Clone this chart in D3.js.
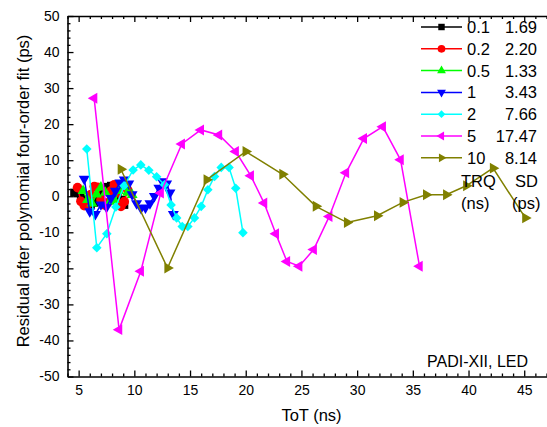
<!DOCTYPE html>
<html>
<head>
<meta charset="utf-8">
<script src="https://cdn.jsdelivr.net/npm/d3@7"></script>
<style>
  body { margin: 0; background: #fff; }
  text { font-family: Arial, "Liberation Sans", sans-serif; }
</style>
</head>
<body>
<div id="chart"></div>
<script>
// series data (x = ToT in ns, y = residual in ps)
var trq0_1_x = [4.6, 4.9, 5.2, 5.5, 5.8, 6.1, 6.4, 6.7, 7.0, 7.3, 7.6, 7.9, 8.2, 8.5, 8.8, 9.1];
var trq0_1_y = [1.0, 0.8, 0.2, -0.8, -1.8, -2.3, -1.8, -0.6, 0.6, 1.8, 2.6, 2.9, 2.3, 0.8, -1.0, -2.4];

var trq0_2_x = [4.9, 5.2, 5.5, 5.8, 6.1, 6.4, 6.7, 7.0, 7.3, 7.6, 7.9, 8.2, 8.5, 8.8, 9.1, 9.4];
var trq0_2_y = [2.4, -1.4, -2.6, -2.2, 0.5, 2.7, 2.5, -1.0, -2.4, -1.8, 1.5, 3.2, 1.0, -2.8, -1.5, 1.8];

var trq0_5_x = [5.4, 5.8, 6.2, 6.6, 7.0, 7.4, 7.8, 8.2, 8.6, 9.0, 9.4, 9.8];
var trq0_5_y = [1.5, -1.0, -2.0, 0.5, 2.5, 1.0, -1.5, -1.0, 1.5, 2.8, 1.0, 0.4];

var trq1_x = [5.5, 6.0, 6.5, 7.0, 7.5, 7.9, 8.3, 8.7, 9.1, 9.5, 9.8, 10.2, 10.6, 11.0, 11.4, 11.8, 12.2, 12.5, 12.9, 13.2, 13.5];
var trq1_y = [4.8, -4.2, -5.0, -2.3, -3.0, -0.5, 1.5, 3.8, 4.6, 3.5, 0.5, -2.0, -3.3, -3.2, -2.0, 0.0, 2.3, 4.1, 3.5, 1.0, -5.0];

var trq2_x = [5.73, 6.63, 7.53, 8.34, 9.08, 9.89, 10.58, 11.3, 12.0, 12.7, 13.3, 13.8, 14.3, 14.8, 15.4, 16.0, 16.6, 17.2, 17.8, 18.5, 19.1, 19.75];
var trq2_y = [13.1, -14.3, -10.4, -3.0, 2.9, 7.3, 8.7, 7.2, 5.4, 3.2, -2.4, -6.0, -8.4, -8.4, -6.0, -2.8, 1.8, 5.5, 8.0, 8.0, 2.2, -10.1];

var trq5_x = [6.39, 8.63, 10.58, 12.37, 14.26, 15.97, 17.6, 19.1, 20.45, 21.65, 22.7, 23.7, 24.8, 26.1, 27.5, 29.0, 30.6, 32.3, 33.9, 35.6];
var trq5_y = [27.2, -37.0, -20.8, 0.9, 14.5, 18.4, 17.0, 12.4, 5.7, -1.9, -10.4, -18.1, -19.4, -14.8, -5.6, 6.5, 16.0, 19.3, 10.1, -19.4];

var trq10_x = [8.79, 12.98, 16.5, 20.0, 23.3, 26.3, 29.1, 31.8, 34.1, 36.2, 38.0, 39.8, 42.2, 45.1];
var trq10_y = [7.5, -19.9, 4.6, 12.4, 6.1, -2.8, -7.3, -5.4, -1.7, 0.4, 0.4, 2.9, 7.8, -6.0];

// legend labels
var trq_labels = ['0.1', '0.2', '0.5', '1', '2', '5', '10'];
var sd_labels = ['1.69', '2.20', '1.33', '3.43', '7.66', '17.47', '8.14'];

// tick values
var x_ticks = [5, 10, 15, 20, 25, 30, 35, 40, 45];
var y_ticks = [-50, -40, -30, -20, -10, 0, 10, 20, 30, 40, 50];

var series_x = [trq0_1_x, trq0_2_x, trq0_5_x, trq1_x, trq2_x, trq5_x, trq10_x];
var series_y = [trq0_1_y, trq0_2_y, trq0_5_y, trq1_y, trq2_y, trq5_y, trq10_y];
var colors = ['#000000', '#ff0000', '#00ff00', '#0000ff', '#00ffff', '#ff00ff', '#808000'];
var shapes = ['square', 'circle', 'up', 'down', 'diamond', 'left', 'right'];

// dimensions
var width = 547, height = 427;
var plot = {left: 67.5, right: 546.5, top: 16, bottom: 376.5};

var font_size_tick = 14;
var font_size_label = 16.5;
var font_size_legend = 16.5;

var svg = d3.select('#chart')
    .append('svg')
        .attr('width', width)
        .attr('height', height);

var x = d3.scaleLinear().domain([4, 47]).range([plot.left, plot.right]);
var y = d3.scaleLinear().domain([-50, 50]).range([plot.bottom, plot.top]);

// marker path for a given shape
function marker(shape, scale) {
    var s = scale || 1;
    if (shape === 'square') return d3.symbol(d3.symbolSquare, 64 * s)();
    if (shape === 'circle') return d3.symbol(d3.symbolCircle, 72 * s)();
    if (shape === 'diamond') return d3.symbol(d3.symbolSquare, 46 * s)();
    return d3.symbol(d3.symbolTriangle, 52 * s)();
}
function rotation(shape) {
    if (shape === 'diamond') return 45;
    if (shape === 'down') return 180;
    if (shape === 'left') return -90;
    if (shape === 'right') return 90;
    return 0;
}

// minor ticks
var x_minor = d3.range(4, 48, 1).filter(function(d) { return d % 5 !== 0; });
var y_minor = d3.range(-48, 50, 2).filter(function(d) { return d % 10 !== 0; });

var fmt = function(d) { return String(d); };

// bottom axis
svg.append('g')
    .attr('transform', 'translate(0,' + plot.bottom + ')')
    .call(d3.axisBottom(x).tickValues(x_minor).tickSize(-3).tickFormat(''))
    .call(function(g) { g.select('.domain').remove(); });
svg.append('g')
    .attr('transform', 'translate(0,' + plot.bottom + ')')
    .style('font-size', font_size_tick)
    .call(d3.axisBottom(x).tickValues(x_ticks).tickFormat(fmt).tickSizeInner(-6).tickSizeOuter(0).tickPadding(9))
    .call(function(g) { g.selectAll('text').attr('font-family', 'Arial, "Liberation Sans", sans-serif'); });

// top axis (no labels)
svg.append('g')
    .attr('transform', 'translate(0,' + plot.top + ')')
    .call(d3.axisTop(x).tickValues(x_minor).tickSize(-3).tickFormat(''))
    .call(function(g) { g.select('.domain').remove(); });
svg.append('g')
    .attr('transform', 'translate(0,' + plot.top + ')')
    .call(d3.axisTop(x).tickValues(x_ticks).tickSizeInner(-6).tickSizeOuter(0).tickFormat(''));

// left axis
svg.append('g')
    .attr('transform', 'translate(' + plot.left + ',0)')
    .call(d3.axisLeft(y).tickValues(y_minor).tickSize(-3).tickFormat(''))
    .call(function(g) { g.select('.domain').remove(); });
svg.append('g')
    .attr('transform', 'translate(' + plot.left + ',0)')
    .style('font-size', font_size_tick)
    .call(d3.axisLeft(y).tickValues(y_ticks).tickFormat(fmt).tickSizeInner(-6).tickSizeOuter(0).tickPadding(8))
    .call(function(g) { g.selectAll('text').attr('font-family', 'Arial, "Liberation Sans", sans-serif'); });

svg.selectAll('.domain').attr('stroke-width', 1.6);
svg.selectAll('.tick line').attr('stroke-width', 1.3);

// axis titles
svg.append('text')
    .attr('x', 311.5)
    .attr('y', 421)
    .style('text-anchor', 'middle')
    .attr('font-size', font_size_label)
    .text('ToT (ns)');

svg.append('text')
    .attr('transform', 'rotate(-90)')
    .attr('x', -191)
    .attr('y', 29)
    .style('text-anchor', 'middle')
    .attr('font-size', font_size_label)
    .text('Residual after polynomial four-order fit (ps)');

// series lines and markers
series_x.forEach(function(xs, i) {
    var pts = xs.map(function(v, j) { return [v, series_y[i][j]]; });
    svg.append('path')
        .datum(pts)
        .attr('fill', 'none')
        .attr('stroke', colors[i])
        .attr('stroke-width', 1.5)
        .attr('d', d3.line()
            .x(function(d) { return x(d[0]); })
            .y(function(d) { return y(d[1]); })
        );
    svg.append('g').selectAll('path')
        .data(pts)
        .enter()
        .append('path')
            .attr('d', marker(shapes[i]))
            .attr('fill', colors[i])
            .attr('transform', function(d) {
                return 'translate(' + x(d[0]) + ',' + y(d[1]) + ') rotate(' + rotation(shapes[i]) + ')';
            });
});

// legend
var legend = svg.selectAll('.legendRow')
    .data(trq_labels)
    .enter()
    .append('g')
    .attr('class', 'legendRow')
    .attr('transform', function(d, i) { return 'translate(0,' + (27 + i * 21.8) + ')'; });

legend.append('line')
    .attr('x1', 421).attr('x2', 462)
    .attr('y1', 0).attr('y2', 0)
    .attr('stroke', function(d, i) { return colors[i]; })
    .attr('stroke-width', 1.5);

legend.append('path')
    .attr('d', function(d, i) { return marker(shapes[i], 0.65); })
    .attr('fill', function(d, i) { return colors[i]; })
    .attr('transform', function(d, i) { return 'translate(441.5,0) rotate(' + rotation(shapes[i]) + ')'; });

legend.append('text')
    .attr('x', 467)
    .attr('dy', '0.36em')
    .attr('font-size', font_size_legend)
    .text(function(d) { return d; });

legend.append('text')
    .attr('x', 537)
    .attr('dy', '0.36em')
    .style('text-anchor', 'end')
    .attr('font-size', font_size_legend)
    .text(function(d, i) { return sd_labels[i]; });

// legend column headers
svg.append('text').attr('x', 461).attr('y', 187).attr('font-size', font_size_legend).text('TRQ');
svg.append('text').attr('x', 515).attr('y', 187).attr('font-size', font_size_legend).text('SD');
svg.append('text').attr('x', 461).attr('y', 209).attr('font-size', font_size_legend).text('(ns)');
svg.append('text').attr('x', 512).attr('y', 209).attr('font-size', font_size_legend).text('(ps)');

// annotation
svg.append('text')
    .attr('x', 427)
    .attr('y', 367)
    .attr('font-size', 16)
    .text('PADI-XII, LED');
</script>
</body>
</html>
